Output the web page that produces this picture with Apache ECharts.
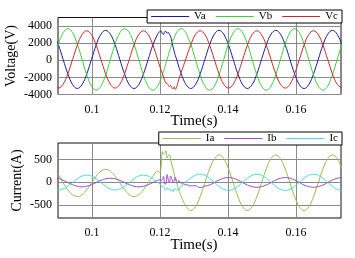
<!DOCTYPE html>
<html>
<head>
<meta charset="utf-8">
<script src="https://cdn.jsdelivr.net/npm/echarts@6/dist/echarts.min.js"></script>
<style>
html,body{margin:0;padding:0;background:#fff;}
#chart{width:355px;height:258px;}
</style>
</head>
<body>
<div id="chart"></div>
<script>
// Time samples (s)
const time = [
  0.08873, 0.09012, 0.09151, 0.0929, 0.09429, 0.09568, 0.09707, 0.09846, 0.09984, 0.10123,
  0.10262, 0.10401, 0.1054, 0.10679, 0.10818, 0.10957, 0.11096, 0.11234, 0.11373, 0.11512,
  0.11651, 0.1179, 0.11929,
  0.11964, 0.11998, 0.12033, 0.12068, 0.12103, 0.12137, 0.12172, 0.12207, 0.12242, 0.12276,
  0.12311, 0.12346, 0.12381, 0.12415, 0.1245, 0.12484, 0.12519, 0.12554, 0.12589, 0.12623,
  0.12658, 0.12693, 0.12728, 0.12762,
  0.12901, 0.1304, 0.13179, 0.13318, 0.13457, 0.13596, 0.13734, 0.13873, 0.14012, 0.14151,
  0.1429, 0.14429, 0.14568, 0.14707, 0.14846, 0.14984, 0.15123, 0.15262, 0.15401, 0.1554,
  0.15679, 0.15818, 0.15957, 0.16096, 0.16234, 0.16373, 0.16512, 0.16651, 0.1679, 0.16929,
  0.17068, 0.17207, 0.17346
];

// Voltages (V)
const va = [
  3044, 1800, 100, -1600, -2844, -3300, -2844, -1600, 100, 1800, 3044, 3500, 3044, 1800, 100,
  -1600, -2844, -3300, -2844, -1600, 100, 1800, 3044,
  3241, 3384, 3420, 3100, 3000, 3350, 3380, 3150, 3250, 3050, 2800, 2200, 1600, 1050, 550, 150,
  -300, -781, -1202, -1600, -1971, -2304, -2596, -2844,
  -3300, -2844, -1600, 100, 1800, 3044, 3500, 3044, 1800, 100, -1600, -2844, -3300, -2844, -1600,
  100, 1800, 3044, 3500, 3044, 1800, 100, -1600, -2844, -3300, -2844, -1600, 100, 1800, 3044,
  3500, 3044, 1800
];
const vb = [
  100, 1900, 3218, 3700, 3218, 1900, 100, -1700, -3018, -3500, -3018, -1700, 100, 1900, 3218,
  3700, 3218, 1900, 100, -1700, -3018, -3500, -3018,
  -2755, -2445, -2092, -1700, -1279, -832, -372, 100, 572, 1032, 1479, 1900, 2292, 2645, 2955, 3218,
  3426, 3578, 3668, 3700, 3668, 3578, 3426, 3218,
  1900, 100, -1700, -3018, -3500, -3018, -1700, 100, 1900, 3218, 3700, 3218, 1900, 100, -1700,
  -3018, -3500, -3018, -1700, 100, 1900, 3218, 3700, 3218, 1900, 100, -1700, -3018, -3500, -3018,
  -1700, 100, 1900
];
const vc = [
  -2801, -3250, -2801, -1575, 100, 1775, 3001, 3450, 3001, 1775, 100, -1575, -2801, -3250, -2801,
  -1575, 100, 1775, 3001, 3450, 3001, 1775, 100,
  -339, -768, -1183, -1575, -1940, -2400, -2650, -2700, -2900, -3100, -2950, -3200, -3350, -3100,
  -3400, -3200, -2700, -2200, -1800, -1400, -1000, -600, -200, 200,
  1775, 3001, 3450, 3001, 1775, 100, -1575, -2801, -3250, -2801, -1575, 100, 1775, 3001, 3450,
  3001, 1775, 100, -1575, -2801, -3250, -2801, -1575, 100, 1775, 3001, 3450, 3001, 1775, 100,
  -1575, -2801, -3250
];

// Currents (A)
const ia = [
  260, 170, -15, -165, -275, -315, -275, -165, -15, 135, 245, 285, 245, 135, -15, -165, -275,
  -315, -275, -165, -15, 135, 245,
  240, 210, 350, 680, 620, 640, 700, 540, 600, 610, 500, 400, 300, 180, 80, 0, -100, -170, -240,
  -310, -380, -440, -490, -530,
  -625, -543, -318, -10, 298, 523, 605, 523, 298, -10, -318, -543, -625, -543, -318, -10, 298,
  523, 605, 523, 298, -10, -318, -543, -625, -543, -318, -10, 298, 523, 605, 523, 298
];
const ib = [
  110, 90, 43, -5, -53, -87, -100, -87, -53, -5, 43, 77, 90, 77, 43, -5, -53, -87, -100, -87,
  -53, -5, 43,
  50, 55, 40, 60, 130, -40, -30, 170, 60, -10, 140, 90, -10, 30, 110, 20, -20, 40, -10, 10, -40,
  -20, -60, -50,
  -80, -75, -120, -85, -60, -5, 50, 90, 105, 90, 50, -5, -60, -95, -110, -95, -60, -5, 50, 90,
  105, 90, 50, -5, -60, -95, -110, -95, -60, -5, 50, 90, 105
];
const ic = [
  -148, -170, -148, -88, -5, 78, 138, 160, 138, 78, -5, -88, -148, -170, -148, -88, -5, 78, 138,
  160, 138, 78, -5,
  -20, -40, -70, -100, -90, -150, -170, -120, -160, -130, -190, -160, -210, -140, -150, -180,
  -150, -170, -110, -100, -60, -30, 0, 20,
  90, 156, 180, 156, 90, 0, -90, -156, -180, -156, -90, 0, 90, 156, 180, 156, 90, 0, -90, -156,
  -180, -156, -90, 0, 90, 156, 180, 156, 90, 0, -90, -156, -180
];

// Axis tick labels
const xTicks = [0.1, 0.12, 0.14, 0.16];
const vTicks = [-4000, -2000, 0, 2000, 4000];
const iTicks = [-500, 0, 500];

const voltNames = ['Va', 'Vb', 'Vc'];
const currNames = ['Ia', 'Ib', 'Ic'];
const voltColors = ['#1c1c9c', '#3ccc3c', '#c82828'];
const currColors = ['#8cc04a', '#9a4ec6', '#48dada'];

const serif = "'Liberation Serif','Times New Roman',serif";
const pair = arr => time.map((t, i) => [t, arr[i]]);

const xAxisBase = (gi, gap) => ({
  type: 'value', gridIndex: gi, min: 0.09, max: 0.1732,
  axisLine: { show: false },
  axisTick: { show: false, customValues: xTicks },
  axisLabel: { customValues: xTicks, margin: 9, color: '#000', fontSize: 12, fontFamily: serif,
    formatter: v => String(parseFloat(v.toFixed(2))) },
  splitLine: { show: true, lineStyle: { color: '#8a8a8a', width: 1 } },
  name: 'Time(s)', nameLocation: 'middle', nameGap: gap, nameMoveOverlap: false,
  nameTextStyle: { color: '#000', fontSize: 15, fontFamily: serif, padding: [0, 11, 0, 0] }
});
const yAxisBase = (gi, min, max, ticks, name, gap) => ({
  type: 'value', gridIndex: gi, min: min, max: max,
  axisLine: { show: false },
  axisTick: { show: false, customValues: ticks },
  axisLabel: { customValues: ticks, margin: 6, color: '#000', fontSize: 12, fontFamily: serif,
    formatter: v => String(Math.round(v)) },
  splitLine: { show: true, lineStyle: { color: '#8a8a8a', width: 1 } },
  name: name, nameLocation: 'middle', nameGap: gap, nameMoveOverlap: false,
  nameTextStyle: { color: '#000', fontSize: 14, fontFamily: serif }
});

const mkSeries = (name, arr, color, gi) => ({
  name: name, type: 'line', xAxisIndex: gi, yAxisIndex: gi,
  data: pair(arr), symbol: 'none', smooth: 0.4, clip: true,
  lineStyle: { color: color, width: 1 }, itemStyle: { color: color }
});

const legendBase = (names, top) => ({
  data: names, right: 13, top: top, orient: 'horizontal',
  icon: 'rect',
  backgroundColor: '#fff', borderColor: '#000', borderWidth: 1,
  padding: [1, 4], itemGap: 10, itemWidth: 38, itemHeight: 1,
  textStyle: { color: '#000', fontSize: 11, fontFamily: serif }
});

const chart = echarts.init(document.getElementById('chart'), null, { renderer: 'canvas' });
chart.setOption({
  animation: false,
  backgroundColor: '#fff',
  grid: [
    { left: 58, right: 14, top: 17.5, height: 77, show: true, borderColor: '#111', borderWidth: 1,
      containLabel: false, outerBoundsMode: 'none' },
    { left: 58, right: 14, top: 143, height: 75, show: true, borderColor: '#111', borderWidth: 1,
      containLabel: false, outerBoundsMode: 'none' }
  ],
  legend: [legendBase(voltNames, 10), legendBase(currNames, 132)],
  xAxis: [xAxisBase(0, 19), xAxisBase(1, 20)],
  yAxis: [
    yAxisBase(0, -4000, 5000, vTicks, 'Voltage(V)', 40),
    yAxisBase(1, -790, 870, iTicks, 'Current(A)', 34)
  ],
  series: [
    mkSeries('Va', va, voltColors[0], 0),
    mkSeries('Vb', vb, voltColors[1], 0),
    mkSeries('Vc', vc, voltColors[2], 0),
    mkSeries('Ia', ia, currColors[0], 1),
    mkSeries('Ib', ib, currColors[1], 1),
    mkSeries('Ic', ic, currColors[2], 1)
  ]
});
</script>
</body>
</html>
